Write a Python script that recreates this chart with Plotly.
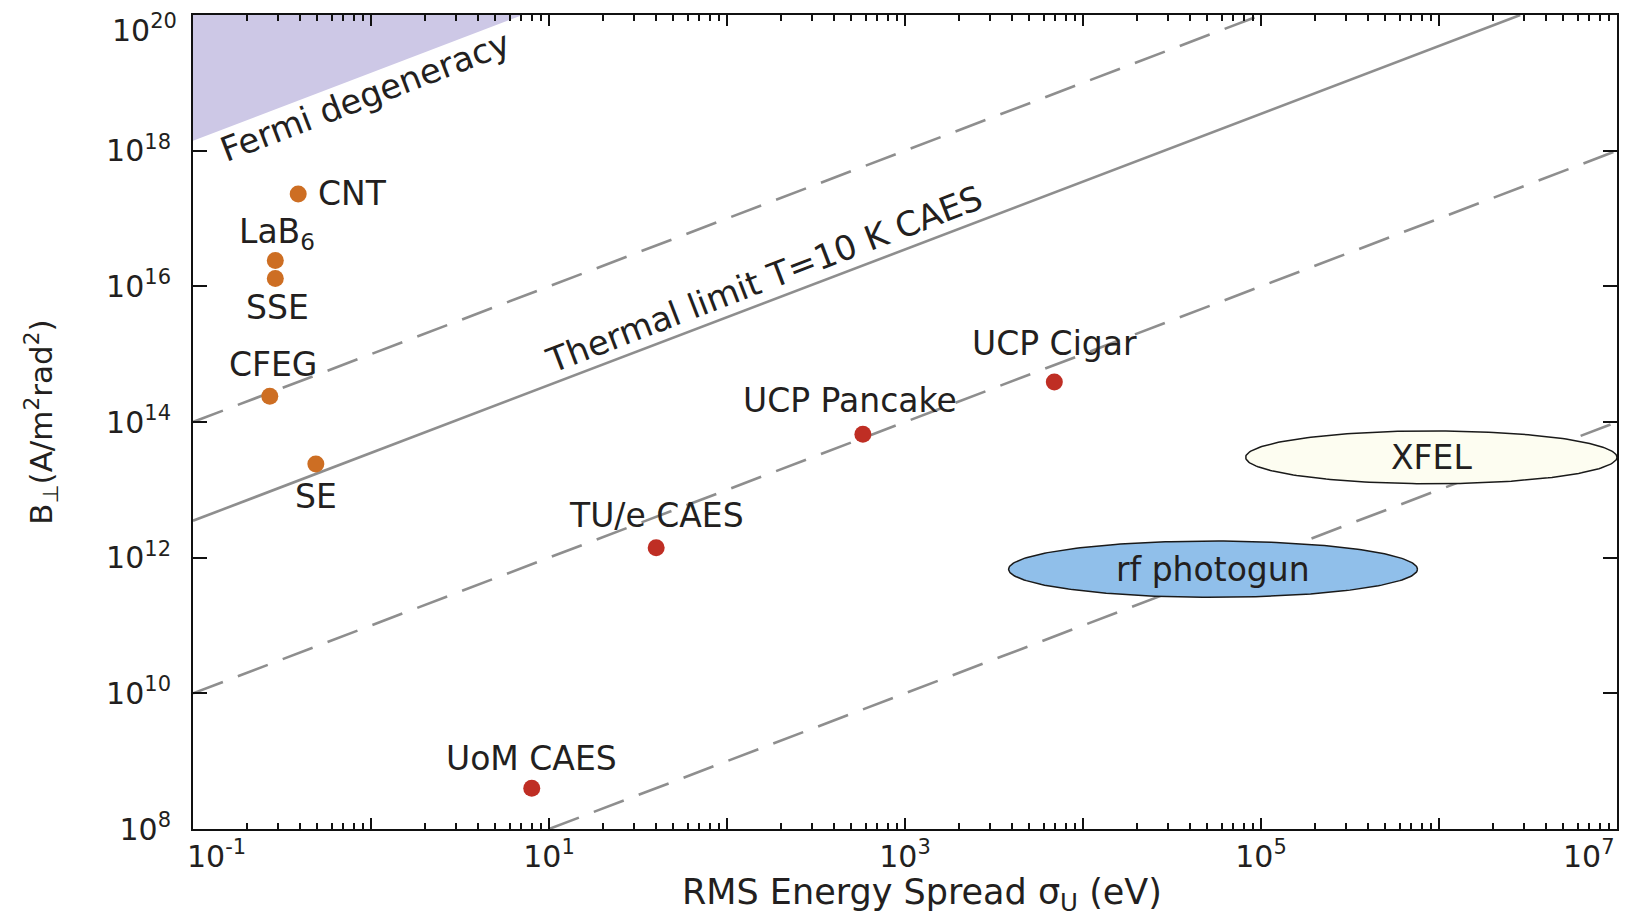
import math
import numpy as np
import plotly.graph_objects as go

# Conventional electron sources: RMS energy spread (eV) and transverse brightness (A/m^2 rad^2)
source_names = ["CNT", "LaB<sub>6</sub>", "SSE", "CFEG", "SE"]
source_sigma = [0.39, 0.29, 0.29, 0.27, 0.49]
source_B = [2.3e17, 2.4e16, 1.3e16, 2.4e14, 2.4e13]

# Cold-atom / ultracold-plasma sources
caes_names = ["UoM CAES", "TU/e CAES", "UCP Pancake", "UCP Cigar"]
caes_sigma = [8.0, 40.0, 580.0, 6900.0]
caes_B = [4.0e8, 1.4e12, 6.6e13, 3.9e14]

# Reference lines (end points in sigma, B)
thermal_sigma = [0.1, 2.86e6]
thermal_B = [3.5e12, 1.0e20]
dash_upper_sigma = [0.1, 1.0e5]
dash_upper_B = [1.0e14, 1.0e20]
dash_mid_sigma = [0.1, 1.0e7]
dash_mid_B = [1.0e10, 1.0e18]
dash_low_sigma = [10.0, 1.0e7]
dash_low_B = [1.0e8, 1.0e14]

# Fermi-degenerate region (corner points)
fermi_sigma = [0.1, 0.1, 7.1, 0.1]
fermi_B = [1.0e20, 1.4e18, 1.0e20, 1.0e20]

# Accelerator-based sources drawn as regions: sigma range, B range
region_names = ["XFEL", "rf photogun"]
region_sigma = [[8.2e4, 1.0e7], [3.82e3, 7.57e5]]
region_B = [[1.23e13, 7.4e13], [2.6e11, 1.76e12]]
region_fill = ["#fdfdf1", "#90bfea"]

# Axis ticks
x_major = [10.0 ** e for e in range(-1, 8)]
x_labels = ["", "", "10<sup>1</sup>", "", "10<sup>3</sup>", "", "10<sup>5</sup>", "", ""]
x_minor = [m * 10.0 ** e for e in range(-1, 7) for m in range(2, 10)]
y_major = [10.0 ** e for e in range(8, 21, 2)]
y_labels = ["10<sup>%d</sup>" % e for e in range(8, 19, 2)] + [""]

FONT = "DejaVu Sans"
TXT = "#231f20"
ORANGE = "#cd6e23"
RED = "#bf2e24"
GREY = "#8e8e8e"
LBL = 33

fig = go.Figure()

fig.add_trace(go.Scatter(x=fermi_sigma, y=fermi_B, mode="lines", fill="toself",
                         fillcolor="#cdc8e6", line=dict(width=0), hoverinfo="skip"))

for xs, ys, dash in [(dash_upper_sigma, dash_upper_B, "32px,16px"),
                     (thermal_sigma, thermal_B, "solid"),
                     (dash_mid_sigma, dash_mid_B, "32px,16px"),
                     (dash_low_sigma, dash_low_B, "32px,16px")]:
    fig.add_trace(go.Scatter(x=xs, y=ys, mode="lines",
                             line=dict(color=GREY, width=2.6, dash=dash), hoverinfo="skip"))

# Regions as ellipses in log-log space, drawn over the reference lines
t = np.linspace(0, 2 * np.pi, 241)
for name, (s0, s1), (b0, b1), fc in zip(region_names, region_sigma, region_B, region_fill):
    cx, ax = (math.log10(s0) + math.log10(s1)) / 2, (math.log10(s1) - math.log10(s0)) / 2
    cy, ay = (math.log10(b0) + math.log10(b1)) / 2, (math.log10(b1) - math.log10(b0)) / 2
    fig.add_trace(go.Scatter(x=10 ** (cx + ax * np.cos(t)), y=10 ** (cy + ay * np.sin(t)),
                             mode="lines", fill="toself", fillcolor=fc,
                             line=dict(color="#1a1a1a", width=1.5), hoverinfo="skip"))
    fig.add_annotation(x=cx, y=cy, text=name, showarrow=False,
                       font=dict(family=FONT, size=LBL, color=TXT))

fig.add_trace(go.Scatter(x=source_sigma, y=source_B, mode="markers",
                         marker=dict(color=ORANGE, size=17, line=dict(width=0))))
fig.add_trace(go.Scatter(x=caes_sigma, y=caes_B, mode="markers",
                         marker=dict(color=RED, size=17, line=dict(width=0))))

# Point labels: (xanchor, xshift, yshift)
source_offsets = [("left", 18, 0), ("center", 2, 27), ("center", 2, -29), ("center", 3, 32), ("center", 0, -32)]
caes_offsets = [("center", 0, 30), ("center", 0, 32), ("center", -13, 34), ("center", 0, 38)]

for names, xs, ys, offs in [(source_names, source_sigma, source_B, source_offsets),
                            (caes_names, caes_sigma, caes_B, caes_offsets)]:
    for n, sx, by, (xa, dx, dy) in zip(names, xs, ys, offs):
        fig.add_annotation(x=math.log10(sx), y=math.log10(by), text=n, showarrow=False,
                           xanchor=xa, yanchor="middle", xshift=dx, yshift=dy,
                           font=dict(family=FONT, size=LBL, color=TXT))

# Rotated line labels
fig.add_annotation(x=math.log10(0.93), y=18.80, text="Fermi degeneracy", showarrow=False,
                   textangle=-21, font=dict(family=FONT, size=34, color=TXT))
fig.add_annotation(x=math.log10(162), y=16.11, text="Thermal limit T=10 K CAES", showarrow=False,
                   textangle=-21, font=dict(family=FONT, size=34, color=TXT))

# Outermost tick labels kept inside the page edges
fig.add_annotation(x=-1, y=8, text="10<sup>-1</sup>", showarrow=False, xanchor="left",
                   yanchor="top", xshift=-8, yshift=-4, font=dict(family=FONT, size=30, color=TXT))
fig.add_annotation(x=7, y=8, text="10<sup>7</sup>", showarrow=False, xanchor="right",
                   yanchor="top", yshift=-4, font=dict(family=FONT, size=30, color=TXT))
fig.add_annotation(x=-1, y=20, text="10<sup>20</sup>", showarrow=False, xanchor="right",
                   yanchor="top", xshift=-14, yshift=8, font=dict(family=FONT, size=30, color=TXT))

# Axis titles
fig.add_annotation(xref="paper", yref="paper", x=0.512, y=-0.081, text="RMS Energy Spread σ<sub>U</sub> (eV)",
                   showarrow=False, xanchor="center", yanchor="middle",
                   font=dict(family=FONT, size=35, color=TXT))
fig.add_annotation(xref="paper", yref="paper", x=-0.107, y=0.5,
                   text="B<sub>⊥</sub>(A/m<sup>2</sup>rad<sup>2</sup>)", textangle=-90,
                   showarrow=False, xanchor="center", yanchor="middle",
                   font=dict(family=FONT, size=31, color=TXT))

fig.update_layout(
    width=1630, height=915, showlegend=False,
    margin=dict(l=193, r=13, t=15, b=86),
    paper_bgcolor="white", plot_bgcolor="white",
    font=dict(family=FONT, color=TXT),
)
fig.update_xaxes(type="log", range=[-1, 7], showgrid=False, zeroline=False,
                 showline=True, linecolor="#111", linewidth=2, mirror="ticks",
                 ticks="inside", ticklen=11, tickwidth=2, tickcolor="#111",
                 tickmode="array", tickvals=x_major, ticktext=x_labels,
                 ticklabeloverflow="allow",
                 tickfont=dict(family=FONT, size=30, color=TXT), automargin=False,
                 minor=dict(tickvals=x_minor, ticks="inside", ticklen=6, tickwidth=1.5, tickcolor="#111"))
fig.update_yaxes(type="log", range=[8, 20], showgrid=False, zeroline=False,
                 showline=True, linecolor="#111", linewidth=2, mirror="ticks",
                 ticks="inside", ticklen=14, tickwidth=2, tickcolor="#111",
                 tickmode="array", tickvals=y_major, ticktext=y_labels,
                 ticklabelstandoff=14, ticklabeloverflow="allow",
                 tickfont=dict(family=FONT, size=30, color=TXT), automargin=False)

fig.write_html("out.html")
